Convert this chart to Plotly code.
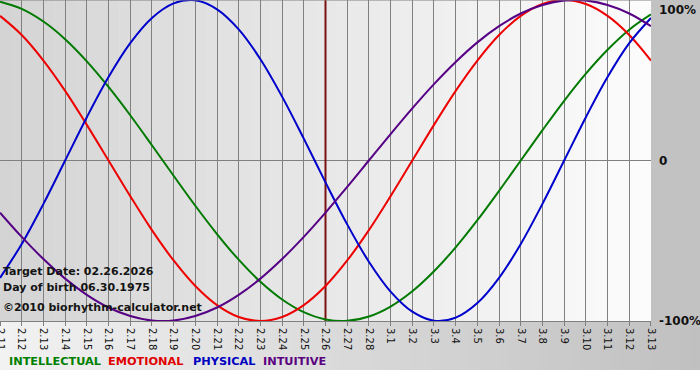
import plotly.graph_objects as go

# ---- data ----
tick_labels = ["2.11", "2.12", "2.13", "2.14", "2.15", "2.16", "2.17", "2.18", "2.19", "2.20",
               "2.21", "2.22", "2.23", "2.24", "2.25", "2.26", "2.27", "2.28",
               "3.1", "3.2", "3.3", "3.4", "3.5", "3.6", "3.7", "3.8", "3.9", "3.10",
               "3.11", "3.12", "3.13"]
days = list(range(len(tick_labels)))

intellectual = [99.0, 94.5, 86.6, 75.6, 61.8, 45.8, 28.2, 9.5, -9.5, -28.2,
                -45.8, -61.8, -75.6, -86.6, -94.5, -99.0, -99.9, -97.2, -91.0, -81.5,
                -69.0, -54.1, -37.2, -18.9, 0.0, 18.9, 37.2, 54.1, 69.0, 81.5, 91.0]
emotional = [90.1, 78.2, 62.3, 43.4, 22.2, 0.0, -22.2, -43.4, -62.3, -78.2,
             -90.1, -97.5, -100.0, -97.5, -90.1, -78.2, -62.3, -43.4, -22.2, 0.0,
             22.2, 43.4, 62.3, 78.2, 90.1, 97.5, 100.0, 97.5, 90.1, 78.2, 62.3]
physical = [-73.1, -52.0, -27.0, 0.0, 27.0, 52.0, 73.1, 88.8, 97.9, 99.8,
            94.2, 81.7, 63.1, 39.8, 13.6, -13.6, -39.8, -63.1, -81.7, -94.2,
            -99.8, -97.9, -88.8, -73.1, -52.0, -27.0, 0.0, 27.0, 52.0, 73.1, 88.8]
intuitive = [-32.5, -47.6, -61.4, -73.6, -83.7, -91.6, -96.9, -99.7, -99.7, -96.9,
             -91.6, -83.7, -73.6, -61.4, -47.6, -32.5, -16.5, 0.0, 16.5, 32.5,
             47.6, 61.4, 73.6, 83.7, 91.6, 96.9, 99.7, 99.7, 96.9, 91.6, 83.7]

series_names = ["INTELLECTUAL", "EMOTIONAL", "PHYSICAL", "INTUITIVE"]
series_values = [intellectual, emotional, physical, intuitive]
series_colors = ["#007a00", "#ee0000", "#0000cc", "#560085"]
legend_colors = ["#008000", "#e00000", "#0000c0", "#5a0080"]

target_label = "2.26"
y_tick_values = [100, 0, -100]
y_tick_text = ["100%", "0", "-100%"]
info_lines = ["Target Date: 02.26.2026", "Day of birth 06.30.1975", "\u00a92010 biorhythm-calculator.net"]

# ---- figure ----
W, H = 700, 380
ML, MR, MT, MB = 0, 49, 0, 59
PW = W - ML - MR
PH = H - MT - MB

fig = go.Figure()

target_idx = tick_labels.index(target_label)
fig.add_trace(go.Scatter(x=[target_idx, target_idx], y=[-100, 100], mode="lines",
                         line=dict(color="#7a1010", width=2), hoverinfo="skip",
                         showlegend=False))

for name, vals, col in zip(series_names, series_values, series_colors):
    fig.add_trace(go.Scatter(x=days, y=vals, mode="lines", name=name,
                             line=dict(color=col, width=2, shape="spline", smoothing=1.0),
                             showlegend=False, hoverinfo="skip"))

shapes = []
# plot area gradient (dark left -> light right)
n = 60
span = days[-1] - days[0]
for k in range(n):
    t = (k + 0.5) / n
    c = int(round(212 + (252 - 212) * t))
    shapes.append(dict(type="rect", xref="x", yref="paper",
                       x0=days[0] + span * k / n, x1=days[0] + span * (k + 1) / n + 0.02,
                       y0=0, y1=1, line=dict(width=0),
                       fillcolor=f"rgb({c},{c},{c})", layer="below"))
# right panel
xr = W / PW
shapes.append(dict(type="rect", xref="paper", yref="paper", x0=1, x1=xr + 0.01,
                   y0=0, y1=1.01, line=dict(width=0), fillcolor="#c2c2c2", layer="below"))
# bottom gradient band
yb = -49 / PH
m = 70
for k in range(m):
    t = (k + 0.5) / m
    c = int(round(242 + (192 - 242) * t))
    shapes.append(dict(type="rect", xref="paper", yref="paper",
                       x0=xr * k / m, x1=xr * (k + 1) / m + 0.002,
                       y0=yb, y1=0, line=dict(width=0),
                       fillcolor=f"rgb({c},{c},{c})", layer="below"))
# top border
shapes.append(dict(type="line", xref="paper", yref="paper", x0=0, x1=1, y0=1, y1=1,
                   line=dict(color="#808080", width=1)))

annotations = []
for v, t in zip(y_tick_values, y_tick_text):
    annotations.append(dict(xref="paper", yref="y", x=1, y=v, xshift=6,
                            text=t, showarrow=False, xanchor="left",
                            yanchor="top" if v == 100 else "middle",
                            yshift=-1 if v == 100 else 0,
                            font=dict(family="DejaVu Sans", size=12, color="#111111", weight="bold")))

info_y = [271, 287, 307]
for t, py in zip(info_lines, info_y):
    annotations.append(dict(xref="paper", yref="paper", x=0, y=1 - (py - MT) / PH, xshift=1,
                            text=t, showarrow=False, xanchor="left", yanchor="middle",
                            font=dict(family="DejaVu Sans", size=11, color="#141414", weight="bold")))

legend_x = [8, 107, 192, 262]
for name, col, px in zip(series_names, legend_colors, legend_x):
    annotations.append(dict(xref="paper", yref="paper", x=px / PW, y=1 - (362 - MT) / PH,
                            text=name, showarrow=False, xanchor="left", yanchor="middle",
                            xshift=-1,
                            font=dict(family="DejaVu Sans", size=11.3, color=col, weight="bold")))

fig.update_layout(
    width=W, height=H,
    margin=dict(l=ML, r=MR, t=MT, b=MB, pad=0, autoexpand=False),
    paper_bgcolor="#ffffff",
    plot_bgcolor="rgba(0,0,0,0)",
    shapes=shapes,
    annotations=annotations,
    hovermode=False,
    xaxis=dict(range=[days[0] - 0.002, days[-1] + 0.002], tickmode="array", tickvals=days,
               ticktext=tick_labels, ticklabeloverflow="allow",
               tickangle=90, showgrid=True, gridcolor="#808080", gridwidth=1,
               zeroline=False, showline=True, linecolor="#808080", linewidth=1,
               ticks="outside", ticklen=4, tickcolor="#808080", automargin=False,
               tickfont=dict(family="DejaVu Sans", size=10, color="#111111"),
               fixedrange=True),
    yaxis=dict(range=[-100, 100], showgrid=False, zeroline=True, zerolinecolor="#808080",
               zerolinewidth=1, showticklabels=False, ticks="", fixedrange=True, automargin=False),
    showlegend=False,
)

fig.write_html("out.html", config={"displayModeBar": False, "staticPlot": False},
               post_script="document.body.style.margin='0';")
